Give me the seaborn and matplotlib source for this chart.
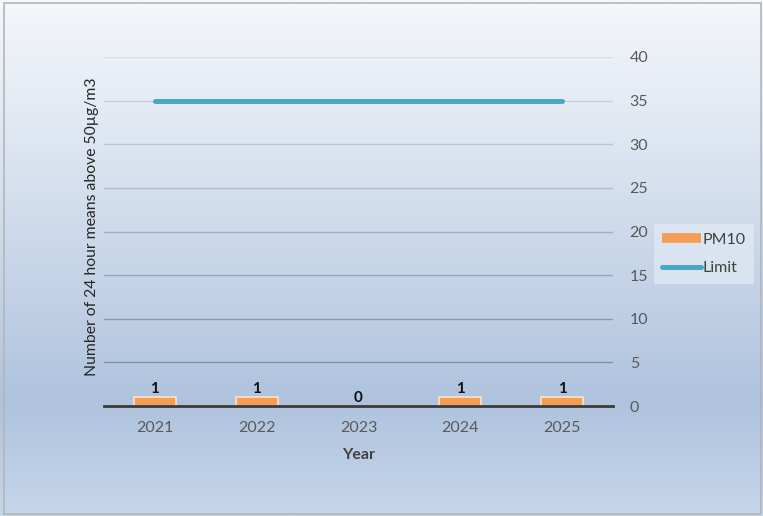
import numpy as np
import pandas as pd
import matplotlib
matplotlib.use("Agg")
import matplotlib.pyplot as plt
from matplotlib.colors import LinearSegmentedColormap
from matplotlib.lines import Line2D
import seaborn as sns

years = ["2021", "2022", "2023", "2024", "2025"]
pm10 = [1, 1, 0, 1, 1]
limit = [35, 35, 35, 35, 35]
y_ticks = [0, 5, 10, 15, 20, 25, 30, 35, 40]

sns.set_theme(style="white")
plt.rcParams["font.family"] = ["Lato", "DejaVu Sans"]

df = pd.DataFrame({"Year": years, "PM10": pm10, "Limit": limit})

fig = plt.figure(figsize=(7.63, 5.16), dpi=100)

# soft vertical gradient behind the whole chart
bg = fig.add_axes([0, 0, 1, 1], zorder=0)
cmap = LinearSegmentedColormap.from_list(
    "bg", [(0.0, "#f4f7fb"), (0.2, "#e4ebf4"), (0.78, "#afc3de"), (1.0, "#c6d6ea")]
)
grad = np.linspace(0, 1, 256).reshape(-1, 1)
bg.imshow(grad, aspect="auto", cmap=cmap, extent=[0, 1, 0, 1], origin="upper")
bg.set_xlim(0, 1)
bg.set_ylim(0, 1)
bg.axis("off")
bg.add_patch(plt.Rectangle((0.005, 0.004), 0.993, 0.99, fill=False,
                           edgecolor="#b5b5b5", linewidth=1.2, transform=bg.transAxes))

ax = fig.add_axes([104 / 763, 1 - 406 / 516, (613 - 104) / 763, (406 - 57) / 516], zorder=1)
ax.patch.set_alpha(0)

sns.barplot(data=df, x="Year", y="PM10", color="#f49d55", width=0.41,
            edgecolor="#fbe3cc", linewidth=1.2, saturation=1, ax=ax, zorder=3)
sns.lineplot(x=np.arange(len(years)), y=df["Limit"], color="#4aa8c3",
             linewidth=3.6, ax=ax, zorder=4)

ax.bar_label(ax.containers[0], labels=[str(v) for v in pm10], padding=1,
             fontsize=11, fontweight="bold", color="#111111")

ax.set_xlim(-0.5, len(years) - 0.5)
ax.set_ylim(0, 40)
ax.set_yticks(y_ticks)
ax.yaxis.tick_right()
ax.tick_params(axis="y", length=0, pad=12, labelsize=11.5, labelcolor="#595959")
ax.tick_params(axis="x", length=0, pad=11, labelsize=11.5, labelcolor="#595959")

# gridlines fade from light at the top to darker near the baseline
grid_cmap = LinearSegmentedColormap.from_list("grid", ["#7e8fa7", "#d3dce7"])
for t in y_ticks[1:]:
    ax.axhline(t, color=grid_cmap((t - 5) / 35), linewidth=1.0, zorder=1)
for s in ["top", "right", "left"]:
    ax.spines[s].set_visible(False)
ax.spines["bottom"].set_color("#3a3a3a")
ax.spines["bottom"].set_linewidth(2)
ax.spines["bottom"].set_zorder(5)

ax.set_xlabel("Year", fontsize=11.5, fontweight="bold", color="#404040", labelpad=9)
ax.set_ylabel("")
fig.text(92 / 763, 1 - 227 / 516, "Number of 24 hour means above 50µg/m3",
         rotation=90, ha="center", va="center", fontsize=11.3, color="#262626", zorder=2)

handles = [
    Line2D([0], [0], color="#f49d55", linewidth=7, solid_capstyle="butt"),
    Line2D([0], [0], color="#4aa8c3", linewidth=3.6),
]
leg = fig.legend(handles, ["PM10", "Limit"], loc="center", bbox_to_anchor=(704 / 763, 1 - 254 / 516),
                 frameon=True, fontsize=11.5, handlelength=2.4, handletextpad=0.1,
                 labelspacing=0.9, borderpad=0.55, fancybox=False)
leg.get_frame().set_facecolor("#e2eaf4")
leg.get_frame().set_alpha(0.7)
leg.get_frame().set_edgecolor("none")
for t in leg.get_texts():
    t.set_color("#404040")

fig.savefig("out.png", dpi=100)
